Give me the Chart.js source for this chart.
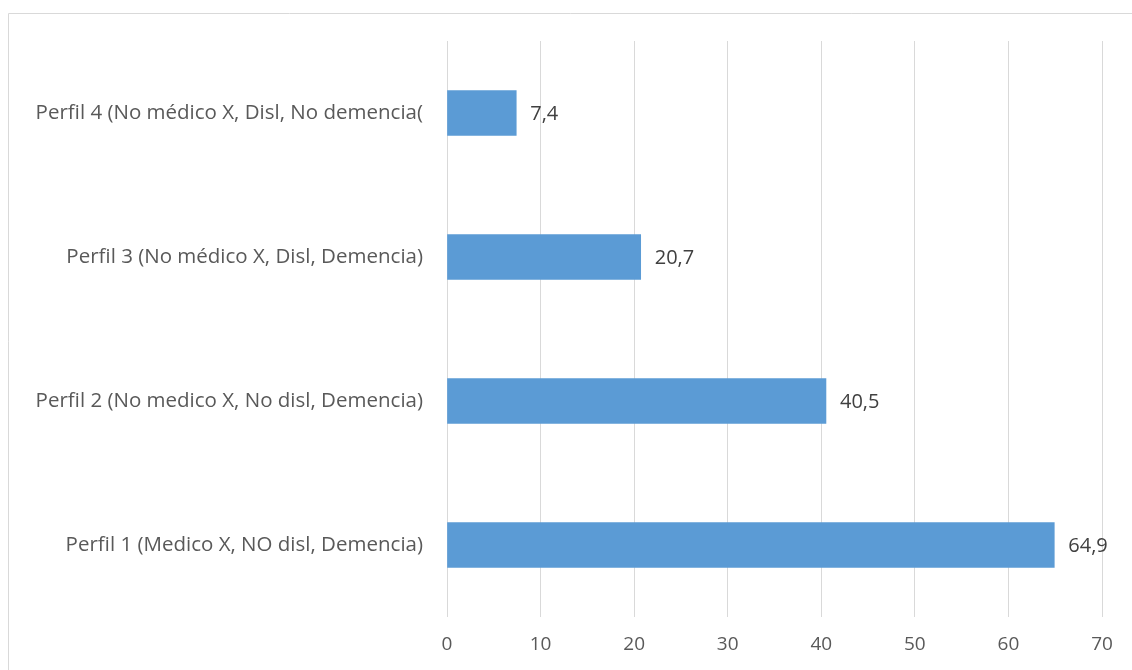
<!DOCTYPE html>
<html>
<head>
<meta charset="utf-8">
<script src="https://cdn.jsdelivr.net/npm/chart.js@4/dist/chart.umd.min.js"></script>
<style>
  html, body { margin: 0; padding: 0; background: #fff; }
  #wrap { position: relative; width: 1132px; height: 670px; }
</style>
</head>
<body>
<div id="wrap"><canvas id="chart" width="1132" height="670"></canvas></div>
<script>
'use strict';

const CATEGORIES = [
  'Perfil 4 (No médico X, Disl, No demencia(',
  'Perfil 3 (No médico X, Disl, Demencia)',
  'Perfil 2 (No medico X, No disl, Demencia)',
  'Perfil 1 (Medico X, NO disl, Demencia)',
];
const VALUES = [7.4, 20.7, 40.5, 64.9];
const X_TICKS = [0, 10, 20, 30, 40, 50, 60, 70];

const FONT = '"Open Sans", Lato, sans-serif';
const TEXT_COLOR = '#595959';

// light frame around the chart, as in the original export
const framePlugin = {
  id: 'frame',
  beforeDraw(chart) {
    const ctx = chart.ctx;
    ctx.save();
    ctx.strokeStyle = '#d9d9d9';
    ctx.lineWidth = 1;
    ctx.beginPath();
    ctx.moveTo(8.5, 670);
    ctx.lineTo(8.5, 13.5);
    ctx.lineTo(1132, 13.5);
    ctx.stroke();
    ctx.restore();
  },
};

const valueLabels = {
  id: 'valueLabels',
  afterDatasetsDraw(chart) {
    const ctx = chart.ctx;
    const meta = chart.getDatasetMeta(0);
    ctx.save();
    ctx.font = `20px ${FONT}`;
    ctx.fillStyle = '#404040';
    ctx.textAlign = 'left';
    ctx.textBaseline = 'middle';
    meta.data.forEach((bar, i) => {
      ctx.fillText(VALUES[i].toFixed(1).replace('.', ','), bar.x + 14, bar.y + 1);
    });
    ctx.restore();
  },
};

new Chart(document.getElementById('chart'), {
  type: 'bar',
  data: {
    labels: CATEGORIES,
    datasets: [{
      data: VALUES,
      backgroundColor: '#5b9bd5',
      barThickness: 45,
    }],
  },
  options: {
    indexAxis: 'y',
    responsive: false,
    animation: false,
    layout: { padding: { top: 41, right: 30, bottom: 0, left: 0 } },
    plugins: { legend: { display: false }, tooltip: { enabled: false } },
    scales: {
      x: {
        min: 0,
        max: 70,
        afterBuildTicks(scale) {
          scale.ticks = X_TICKS.map((v) => ({ value: v }));
        },
        afterFit(scale) { scale.height = 53; },
        grid: { color: '#d9d9d9', drawTicks: false },
        border: { display: false },
        ticks: { color: TEXT_COLOR, font: { family: FONT, size: 19 }, padding: 16 },
      },
      y: {
        afterFit(scale) { scale.width = 447; },
        grid: { display: false },
        border: { display: false },
        ticks: { color: TEXT_COLOR, font: { family: FONT, size: 20.5 }, padding: 16 },
      },
    },
  },
  plugins: [framePlugin, valueLabels],
});
</script>
</body>
</html>
